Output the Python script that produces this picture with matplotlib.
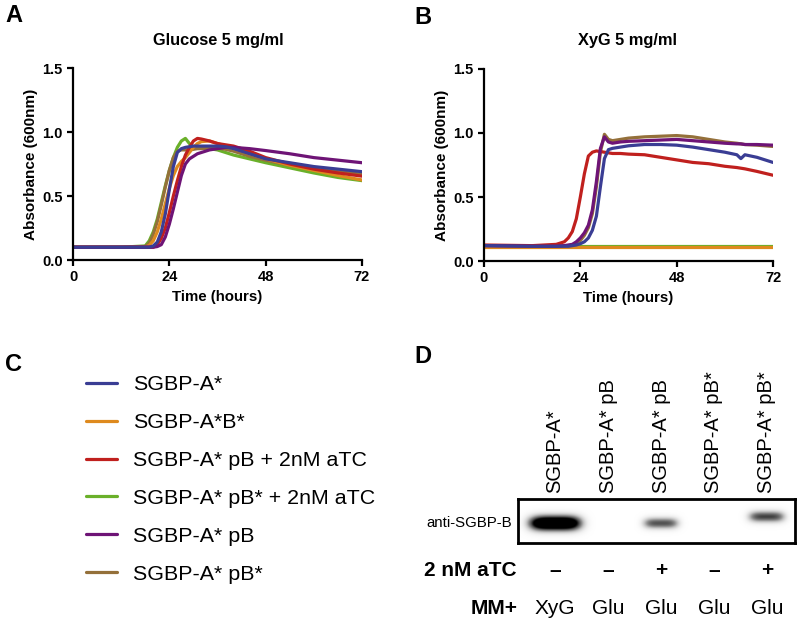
"""
Growth of SGBP strains on glucose and XyG, plus the anti-SGBP-B western blot
"""

import numpy as np
import matplotlib
matplotlib.use('Agg')
import matplotlib.pyplot as plt
import matplotlib.transforms as mtransforms

plt.rcParams['font.family'] = ['Liberation Sans', 'DejaVu Sans']

# Strains, in legend order, and their colours
strains = ['SGBP-A*', 'SGBP-A*B*', 'SGBP-A* pB + 2nM aTC',
           'SGBP-A* pB* + 2nM aTC', 'SGBP-A* pB', 'SGBP-A* pB*']
colors = ['#3a3d94', '#de8a1e', '#c0201e', '#6ab02a', '#6e1476', '#94703a']

# Panel A: glucose 5 mg/ml, absorbance (600nm)
time_glc = [0, 12, 18, 19, 20, 21, 22, 23, 24, 25, 26, 27, 28, 29, 30, 31, 32,
            34, 36, 38, 40, 44, 48, 54, 60, 66, 72]
glc_blue = [0.10, 0.10, 0.10, 0.10, 0.11, 0.14, 0.22, 0.36, 0.55, 0.73, 0.84, 0.87, 0.88,
            0.885, 0.89, 0.89, 0.89, 0.89, 0.89, 0.885, 0.87, 0.83, 0.79, 0.76, 0.73, 0.71, 0.69]
glc_orange = [0.10, 0.10, 0.10, 0.115, 0.15, 0.22, 0.32, 0.44, 0.56, 0.66, 0.73, 0.77, 0.80,
              0.84, 0.88, 0.91, 0.925, 0.93, 0.91, 0.89, 0.87, 0.83, 0.79, 0.74, 0.70, 0.66, 0.625]
glc_red = [0.10, 0.10, 0.10, 0.10, 0.10, 0.12, 0.17, 0.25, 0.37, 0.50, 0.62, 0.73, 0.82,
           0.88, 0.93, 0.95, 0.945, 0.93, 0.91, 0.90, 0.89, 0.85, 0.80, 0.75, 0.71, 0.68, 0.655]
glc_green = [0.10, 0.10, 0.11, 0.15, 0.22, 0.32, 0.45, 0.58, 0.70, 0.80, 0.88, 0.93, 0.95,
             0.91, 0.88, 0.88, 0.88, 0.87, 0.86, 0.84, 0.82, 0.79, 0.76, 0.72, 0.68, 0.645, 0.62]
glc_purple = [0.10, 0.10, 0.10, 0.10, 0.10, 0.105, 0.12, 0.18, 0.28, 0.40, 0.53, 0.66, 0.75,
              0.79, 0.81, 0.83, 0.84, 0.86, 0.87, 0.88, 0.88, 0.87, 0.855, 0.83, 0.80, 0.78, 0.76]
glc_brown = [0.10, 0.10, 0.105, 0.13, 0.20, 0.30, 0.43, 0.57, 0.70, 0.80, 0.85, 0.86, 0.86,
             0.86, 0.865, 0.87, 0.87, 0.875, 0.875, 0.865, 0.85, 0.81, 0.78, 0.74, 0.71, 0.69, 0.67]

# Panel B: XyG 5 mg/ml
time_xyg = [0, 12, 18, 20, 21, 22, 23, 24, 25, 26, 27, 28, 29, 30, 31, 32, 34, 36,
            40, 44, 48, 52, 56, 60, 63, 64, 65, 68, 72]
xyg_blue = [0.12, 0.115, 0.115, 0.115, 0.115, 0.12, 0.125, 0.135, 0.15, 0.18, 0.24, 0.35, 0.58,
            0.80, 0.87, 0.88, 0.89, 0.90, 0.91, 0.91, 0.905, 0.89, 0.87, 0.85, 0.83, 0.80, 0.83, 0.81, 0.77]
xyg_orange = [0.11] * len(time_xyg)
xyg_red = [0.125, 0.12, 0.13, 0.15, 0.18, 0.23, 0.33, 0.50, 0.68, 0.82, 0.85, 0.86, 0.855,
           0.85, 0.845, 0.84, 0.84, 0.835, 0.83, 0.81, 0.79, 0.77, 0.76, 0.74, 0.73, 0.725, 0.72, 0.70, 0.67]
xyg_green = [0.115] * len(time_xyg)
xyg_purple = [0.12, 0.115, 0.115, 0.12, 0.125, 0.13, 0.15, 0.18, 0.22, 0.28, 0.40, 0.62, 0.88,
              0.97, 0.93, 0.92, 0.93, 0.935, 0.94, 0.945, 0.95, 0.94, 0.93, 0.92, 0.915, 0.915, 0.91, 0.91, 0.905]
xyg_brown = [0.12, 0.115, 0.115, 0.12, 0.12, 0.125, 0.14, 0.16, 0.20, 0.26, 0.37, 0.58, 0.85,
             0.99, 0.95, 0.94, 0.95, 0.96, 0.97, 0.975, 0.98, 0.97, 0.95, 0.93, 0.92, 0.915, 0.91, 0.905, 0.895]

# Panel D: western blot lanes
lane_labels = ['SGBP-A*', 'SGBP-A* pB', 'SGBP-A* pB', 'SGBP-A* pB*', 'SGBP-A* pB*']
atc = ['\u2013', '\u2013', '+', '\u2013', '+']
media = ['XyG', 'Glu', 'Glu', 'Glu', 'Glu']
band_signal = [1.6, 0.0, 0.75, 0.0, 0.8]

glc_series = [glc_blue, glc_orange, glc_red, glc_green, glc_purple, glc_brown]
xyg_series = [xyg_blue, xyg_orange, xyg_red, xyg_green, xyg_purple, xyg_brown]
draw_order = [3, 5, 1, 2, 4, 0]

W, H = 800, 624
fig = plt.figure(figsize=(8, 6.24), dpi=100)


def px_axes(left, top, right, bottom):
    return fig.add_axes([left / W, 1 - bottom / H, (right - left) / W, (bottom - top) / H])


def growth_panel(ax, t, series, title, xc):
    for i in draw_order:
        ax.plot(t, series[i], color=colors[i], lw=2.3, label=strains[i],
                solid_capstyle='round')
    ax.set_xlim(0, 72)
    ax.set_ylim(0, 1.5)
    ax.set_xticks([0, 24, 48, 72])
    ax.set_yticks([0, 0.5, 1.0, 1.5])
    ax.set_yticklabels(['0.0', '0.5', '1.0', '1.5'])
    for s in ['top', 'right']:
        ax.spines[s].set_visible(False)
    for s in ['left', 'bottom']:
        ax.spines[s].set_linewidth(1.6)
    ax.tick_params(width=1.6, length=4, labelsize=10.5)
    for lab in ax.get_xticklabels() + ax.get_yticklabels():
        lab.set_fontweight('bold')
    ax.set_xlabel('Time (hours)', fontsize=10.8, fontweight='bold', labelpad=4)
    ax.set_ylabel('Absorbance (600nm)', fontsize=11, fontweight='bold', labelpad=3)
    fig.text(xc / W, 1 - 40 / H, title, ha='center', va='center',
             fontsize=11.8, fontweight='bold')


axA = px_axes(73, 68, 362, 260)
growth_panel(axA, time_glc, glc_series, 'Glucose 5 mg/ml', 218)
axB = px_axes(484, 69, 773, 261)
growth_panel(axB, time_xyg, xyg_series, 'XyG 5 mg/ml', 628)

for letter, x, y in [('A', 5, 4), ('B', 414, 6), ('C', 5, 353), ('D', 414, 345)]:
    fig.text(x / W, 1 - y / H, letter, ha='left', va='top', fontsize=17, fontweight='bold')

# Panel C: legend built from the panel A lines
handles, labels = axA.get_legend_handles_labels()
order = [labels.index(s) for s in strains]
fig.legend([handles[i] for i in order], [labels[i] for i in order],
           loc='center left', bbox_to_anchor=(86 / W, 1 - 479.5 / H),
           frameon=False, fontsize=15.4, handlelength=1.45, handletextpad=0.75,
           labelspacing=0.88, borderpad=0, borderaxespad=0)

# Panel D: blot
axD = px_axes(518, 499, 795, 543)
x0, x1 = 0.3, 5.53
xs = np.linspace(x0, x1, 600)
ys = np.linspace(0, 1, 120)
X, Y = np.meshgrid(xs, ys)
img = np.zeros_like(X)
for i, sig in enumerate(band_signal):
    lane = i + 1
    half_w = 0.2 + 0.18 * sig
    yc = 0.45 if lane < 5 else 0.6
    sy = 0.09 + 0.05 * sig
    img += sig * np.exp(-((X - lane) / half_w) ** 4 - ((Y - yc) / sy) ** 2)
axD.imshow(img, cmap='Greys', vmin=0, vmax=1, extent=(x0, x1, 0, 1),
           aspect='auto', origin='lower', interpolation='bilinear')
axD.set_xlim(x0, x1)
axD.set_ylim(0, 1)
axD.set_xticks([])
axD.set_yticks([])
for s in axD.spines.values():
    s.set_linewidth(2)

lane_tf = mtransforms.blended_transform_factory(axD.transData, fig.transFigure)
for i in range(len(lane_labels)):
    lane = i + 1
    axD.text(lane, 1 - 493 / H, lane_labels[i], transform=lane_tf, rotation=90,
             ha='center', va='bottom', fontsize=14.5)
    axD.text(lane, 1 - 571 / H, atc[i], transform=lane_tf, ha='center', va='center',
             fontsize=15, fontweight='bold')
    axD.text(lane, 1 - 608 / H, media[i], transform=lane_tf, ha='center', va='center',
             fontsize=15)

fig.text(512 / W, 1 - 523 / H, 'anti-SGBP-B', ha='right', va='center', fontsize=10.8)
fig.text(517 / W, 1 - 571 / H, '2 nM aTC', ha='right', va='center', fontsize=15,
         fontweight='bold')
fig.text(518 / W, 1 - 608 / H, 'MM+', ha='right', va='center', fontsize=15,
         fontweight='bold')

fig.savefig('out.png', dpi=100)
